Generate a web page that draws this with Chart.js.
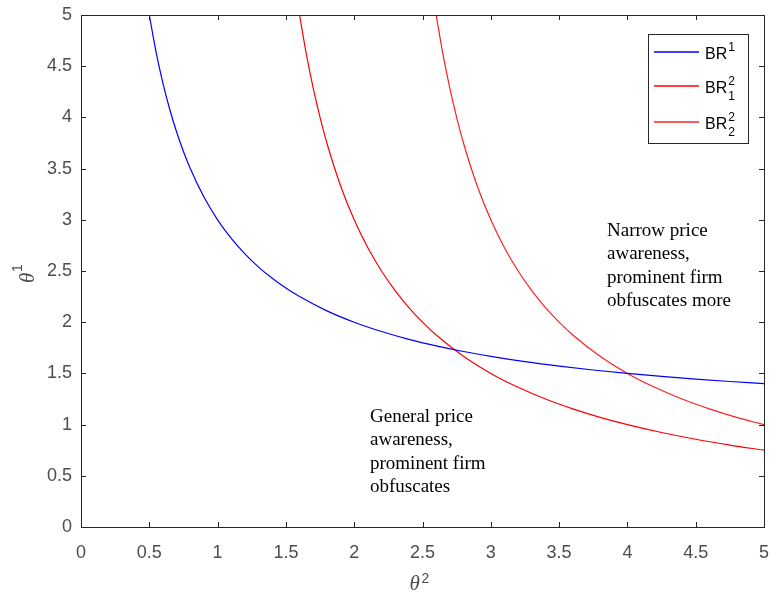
<!DOCTYPE html>
<html>
<head>
<meta charset="utf-8">
<script src="https://cdn.jsdelivr.net/npm/chart.js@4.4.0/dist/chart.umd.min.js"></script>
<style>
  html, body { margin: 0; padding: 0; background: #fff; }
  #wrap { width: 771px; height: 593px; }
</style>
</head>
<body>
<div id="wrap"><canvas id="brChart" width="771" height="593"></canvas></div>
<script>
// Best response of firm 1 (blue)
const br1X = [0.5, 0.55, 0.6, 0.65, 0.7, 0.75, 0.8, 0.9, 1.0, 1.1, 1.2, 1.3, 1.4, 1.5, 1.6, 1.8, 2.0, 2.2, 2.4, 2.6, 2.8, 3.0, 3.25, 3.5, 3.75, 4.0, 4.25, 4.5, 4.75, 5.0];
const br1Y = [5.0, 4.636, 4.333, 4.077, 3.857, 3.667, 3.5, 3.222, 3.0, 2.818, 2.667, 2.538, 2.429, 2.333, 2.25, 2.111, 2.0, 1.909, 1.833, 1.769, 1.714, 1.667, 1.615, 1.571, 1.533, 1.5, 1.471, 1.444, 1.421, 1.4];

// Best responses of firm 2 (red), two regimes
const br21X = [1.6, 1.65, 1.7, 1.75, 1.8, 1.9, 2.0, 2.1, 2.2, 2.3, 2.4, 2.5, 2.6, 2.8, 3.0, 3.2, 3.4, 3.6, 3.8, 4.0, 4.25, 4.5, 4.75, 5.0];
const br21Y = [5.0, 4.615, 4.286, 4.0, 3.75, 3.333, 3.0, 2.727, 2.5, 2.308, 2.143, 2.0, 1.875, 1.667, 1.5, 1.364, 1.25, 1.154, 1.071, 1.0, 0.923, 0.857, 0.8, 0.75];

const br22X = [2.6, 2.65, 2.7, 2.75, 2.8, 2.9, 3.0, 3.1, 3.2, 3.3, 3.4, 3.5, 3.6, 3.8, 4.0, 4.2, 4.4, 4.6, 4.8, 5.0];
const br22Y = [5.0, 4.615, 4.286, 4.0, 3.75, 3.333, 3.0, 2.727, 2.5, 2.308, 2.143, 2.0, 1.875, 1.667, 1.5, 1.364, 1.25, 1.154, 1.071, 1.0];

// legend text pieces: base, superscript, subscript
const seriesNames = ["BR", "BR", "BR"];
const seriesSup = ["1", "2", "2"];
const seriesSub = ["", "1", "2"];
const seriesColors = ["#0000ff", "#ff0000", "#ff2020"];

const xTitle = ["θ", "2"];
const yTitle = ["θ", "1"];

const noteNarrow = ["Narrow price", "awareness,", "prominent firm", "obfuscates more"];
const noteGeneral = ["General price", "awareness,", "prominent firm", "obfuscates"];

function toPoints(xs, ys) {
  return xs.map((x, i) => ({ x: x, y: ys[i] }));
}

const axisColor = "#262626";
const labelColor = "#4d4d4d";

// Box around the axes with inward ticks on every side
const framePlugin = {
  id: "frame",
  afterDraw(chart) {
    const ctx = chart.ctx;
    const a = chart.chartArea;
    const xs = chart.scales.x;
    const ys = chart.scales.y;
    ctx.save();
    ctx.strokeStyle = axisColor;
    ctx.lineWidth = 1;
    ctx.strokeRect(Math.round(a.left) + 0.5, Math.round(a.top) + 0.5,
      Math.round(a.right - a.left), Math.round(a.bottom - a.top));
    ctx.beginPath();
    xs.ticks.forEach((t) => {
      const px = Math.round(xs.getPixelForValue(t.value)) + 0.5;
      ctx.moveTo(px, a.bottom); ctx.lineTo(px, a.bottom - 5);
      ctx.moveTo(px, a.top); ctx.lineTo(px, a.top + 5);
    });
    ys.ticks.forEach((t) => {
      const py = Math.round(ys.getPixelForValue(t.value)) + 0.5;
      ctx.moveTo(a.left, py); ctx.lineTo(a.left + 5, py);
      ctx.moveTo(a.right, py); ctx.lineTo(a.right - 5, py);
    });
    ctx.stroke();

    // axis titles
    ctx.fillStyle = labelColor;
    ctx.textBaseline = "alphabetic";
    ctx.textAlign = "left";
    const cx = (a.left + a.right) / 2;
    ctx.font = "italic 21px 'Liberation Serif'";
    ctx.fillText(xTitle[0], cx - 13, 590);
    ctx.font = "14px 'Liberation Sans'";
    ctx.fillText(xTitle[1], cx - 1, 583);

    ctx.translate(34, (a.top + a.bottom) / 2);
    ctx.rotate(-Math.PI / 2);
    ctx.font = "italic 21px 'Liberation Serif'";
    ctx.fillText(yTitle[0], -12, 0);
    ctx.font = "14px 'Liberation Sans'";
    ctx.fillText(yTitle[1], -1, -12);
    ctx.restore();

    // annotations
    ctx.save();
    ctx.fillStyle = "#000";
    ctx.font = "19px 'Liberation Serif'";
    ctx.textAlign = "left";
    ctx.textBaseline = "middle";
    noteNarrow.forEach((s, i) => ctx.fillText(s, 607, 231 + i * 23.5));
    noteGeneral.forEach((s, i) => ctx.fillText(s, 370, 417 + i * 23.5));
    ctx.restore();

    // legend
    ctx.save();
    const lx = 648, ly = 34, lw = 100, lh = 109;
    ctx.fillStyle = "#fff";
    ctx.fillRect(lx, ly, lw, lh);
    ctx.strokeStyle = axisColor;
    ctx.strokeRect(lx + 0.5, ly + 0.5, lw, lh);
    const rows = [52, 86, 122];
    chart.data.datasets.forEach((ds, i) => {
      const y = rows[i];
      ctx.strokeStyle = ds.borderColor;
      ctx.lineWidth = 1.3;
      ctx.beginPath();
      ctx.moveTo(654, y); ctx.lineTo(699, y);
      ctx.stroke();
      ctx.fillStyle = "#000";
      ctx.textBaseline = "alphabetic";
      ctx.font = "16px 'Liberation Sans'";
      ctx.fillText(seriesNames[i], 705, y + 7);
      const w = ctx.measureText(seriesNames[i]).width;
      ctx.font = "12px 'Liberation Sans'";
      ctx.fillText(seriesSup[i], 705 + w + 1, y - 1);
      if (seriesSub[i]) ctx.fillText(seriesSub[i], 705 + w + 1, y + 14);
    });
    ctx.restore();
  }
};

const ctx = document.getElementById("brChart").getContext("2d");

const lineStyle = {
  borderWidth: 1.2,
  pointRadius: 0,
  fill: false,
  cubicInterpolationMode: "monotone"
};

const tickFont = { family: "'Liberation Sans'", size: 18 };

new Chart(ctx, {
  type: "line",
  data: {
    datasets: [
      Object.assign({ label: "BR1", data: toPoints(br1X, br1Y), borderColor: seriesColors[0] }, lineStyle),
      Object.assign({ label: "BR21", data: toPoints(br21X, br21Y), borderColor: seriesColors[1] }, lineStyle),
      Object.assign({ label: "BR22", data: toPoints(br22X, br22Y), borderColor: seriesColors[2] }, lineStyle)
    ]
  },
  options: {
    responsive: false,
    animation: false,
    layout: { padding: { top: 15, right: 7, left: 0, bottom: 0 } },
    plugins: {
      legend: { display: false },
      tooltip: { enabled: false }
    },
    scales: {
      x: {
        type: "linear",
        min: 0,
        max: 5,
        grid: { display: false, drawTicks: false },
        border: { display: false },
        ticks: { stepSize: 0.5, padding: 15, color: labelColor, font: tickFont, maxRotation: 0,
          callback: (v) => String(v) },
        afterFit(scale) {
          scale.height = 66;
          scale.paddingLeft = 0;
          scale.paddingRight = 0;
        }
      },
      y: {
        type: "linear",
        min: 0,
        max: 5,
        grid: { display: false, drawTicks: false },
        border: { display: false },
        ticks: { stepSize: 0.5, padding: 9, color: labelColor, font: tickFont,
          callback: (v) => String(v) },
        afterFit(scale) {
          scale.width = 81;
          scale.paddingTop = 0;
          scale.paddingBottom = 0;
        }
      }
    }
  },
  plugins: [framePlugin]
});
</script>
</body>
</html>
